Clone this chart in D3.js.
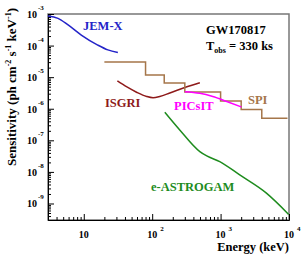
<!DOCTYPE html>
<html lang="en">
<head>
  <meta charset="UTF-8">
  <title>Sensitivity GW170817</title>
  <script src="https://d3js.org/d3.v7.min.js"></script>
  <style>
    body { margin: 0; background: #fff; }
    text { font-family: "Liberation Serif", "Times New Roman", serif; font-weight: bold; }
  </style>
</head>
<body>
  <svg width="303" height="257"></svg>
  <script>
    // Curve data: energy (keV) and sensitivity (ph cm-2 s-1 keV-1)
    const jemxE = [3, 4.2, 5.9, 9.2, 16, 22.5, 31.5];
    const jemxS = [8.6e-4, 7.3e-4, 4.5e-4, 2.16e-4, 1.04e-4, 7.3e-5, 6.0e-5];

    const isgriE = [31, 42.7, 60, 83, 103, 129, 181, 300, 497];
    const isgriS = [7.6e-6, 4.9e-6, 3.28e-6, 2.45e-6, 2.24e-6, 2.45e-6, 3.16e-6, 4.72e-6, 6.7e-6];

    const picsitE = [300, 497, 769, 1230, 2018];
    const picsitS = [3.48e-6, 3.1e-6, 2.45e-6, 1.7e-6, 1.14e-6];

    // SPI is a staircase: bin edges and one level per bin
    const spiEdges = [20, 80, 150, 300, 1000, 2000, 4000, 9500];
    const spiLevels = [3.0e-5, 1.17e-5, 6.5e-6, 3.4e-6, 1.77e-6, 9.5e-7, 5.0e-7];

    const astroE = [153, 253, 497, 628, 973, 1905, 4677, 9890];
    const astroS = [7.75e-7, 2.13e-7, 4.4e-8, 3.2e-8, 2.12e-8, 8.0e-9, 2.12e-9, 4.5e-10];

    const xMajor = [10, 100, 1000, 10000];
    const xExp = ["", "2", "3", "4"];
    const yMajor = [1e-3, 1e-4, 1e-5, 1e-6, 1e-7, 1e-8, 1e-9];
    const yExp = ["-3", "-4", "-5", "-6", "-7", "-8", "-9"];

    const svg = d3.select("svg");
    const mLeft = 48, mRight = 289, mTop = 14, mBottom = 220;

    const x = d3.scaleLog().domain([3, 10000]).range([mLeft, mRight]);
    const y = d3.scaleLog().domain([3e-10, 1e-3]).range([mBottom, mTop]);

    // minor tick values
    const xMinor = [];
    [1, 10, 100, 1000].forEach(d => {
      for (let m = 2; m <= 9; m++) {
        const v = m * d;
        if (v > 3 && v < 10000 && !xMajor.includes(v)) xMinor.push(v);
      }
    });
    const yMinor = [];
    [1e-10, 1e-9, 1e-8, 1e-7, 1e-6, 1e-5, 1e-4].forEach(d => {
      for (let m = 2; m <= 9; m++) {
        const v = m * d;
        if (v > 3e-10 && v < 1e-3) yMinor.push(v);
      }
    });

    // frame
    svg.append("rect")
      .attr("x", mLeft).attr("y", mTop)
      .attr("width", mRight - mLeft).attr("height", mBottom - mTop)
      .attr("fill", "none").attr("stroke", "#777").attr("stroke-width", 1.5);

    // axes with inward ticks
    function addAxis(axis, tr) {
      const g = svg.append("g").attr("transform", tr).call(axis);
      g.selectAll("text").remove();
      g.selectAll("line").attr("stroke", "#000");
      g.select(".domain").attr("stroke", "#000");
      return g;
    }
    addAxis(d3.axisBottom(x).tickValues(xMajor).tickSize(-6).tickSizeOuter(0).tickFormat(""), `translate(0,${mBottom})`);
    addAxis(d3.axisBottom(x).tickValues(xMinor).tickSize(-3).tickSizeOuter(0).tickFormat(""), `translate(0,${mBottom})`);
    addAxis(d3.axisLeft(y).tickValues(yMajor).tickSize(-6).tickSizeOuter(0).tickFormat(""), `translate(${mLeft},0)`);
    addAxis(d3.axisLeft(y).tickValues(yMinor).tickSize(-3).tickSizeOuter(0).tickFormat(""), `translate(${mLeft},0)`);

    // tick labels
    const xl = svg.append("g").attr("font-size", 10);
    xMajor.forEach((v, i) => {
      xl.append("text").attr("x", x(v)).attr("y", 238).attr("text-anchor", "middle").text("10");
      if (xExp[i]) {
        xl.append("text").attr("x", x(v) + 8).attr("y", 231).attr("font-size", 7).text(xExp[i]);
      }
    });
    const yl = svg.append("g").attr("font-size", 10);
    yMajor.forEach((v, i) => {
      yl.append("text").attr("x", 37).attr("y", y(v) + 4).attr("text-anchor", "end").text("10");
      yl.append("text").attr("x", 38).attr("y", y(v) - 4).attr("font-size", 7).text(yExp[i]);
    });

    // axis titles
    svg.append("text")
      .attr("x", mRight).attr("y", 251).attr("text-anchor", "end")
      .attr("font-size", 12.5).text("Energy (keV)");

    const yt = svg.append("text")
      .attr("transform", "translate(16,8) rotate(-90)")
      .attr("text-anchor", "end").attr("font-size", 13);
    yt.append("tspan").text("Sensitivity (ph cm");
    yt.append("tspan").attr("dy", -5).attr("font-size", 8).text("-2");
    yt.append("tspan").attr("dy", 5).text(" s");
    yt.append("tspan").attr("dy", -5).attr("font-size", 8).text("-1");
    yt.append("tspan").attr("dy", 5).text(" keV");
    yt.append("tspan").attr("dy", -5).attr("font-size", 8).text("-1");
    yt.append("tspan").attr("dy", 5).text(")");

    // curves
    const line = d3.line().x(d => x(d[0])).y(d => y(d[1])).curve(d3.curveMonotoneX);
    const plot = svg.append("g").attr("fill", "none").attr("stroke-width", 1.5);

    plot.append("path").attr("d", line(d3.zip(jemxE, jemxS))).attr("stroke", "#2424c8");
    plot.append("path").attr("d", line(d3.zip(isgriE, isgriS))).attr("stroke", "#8e1a1a");

    const spiPts = spiLevels.map((s, i) => [spiEdges[i], s]);
    spiPts.push([spiEdges[spiEdges.length - 1], spiLevels[spiLevels.length - 1]]);
    plot.append("path")
      .attr("d", d3.line().x(d => x(d[0])).y(d => y(d[1])).curve(d3.curveStepAfter)(spiPts))
      .attr("stroke", "#a5764a");

    plot.append("path").attr("d", line(d3.zip(picsitE, picsitS))).attr("stroke", "#ff00ff");
    plot.append("path").attr("d", line(d3.zip(astroE, astroS))).attr("stroke", "#1e8c1e");

    // labels
    const lab = svg.append("g").attr("font-size", 12.5);
    lab.append("text").attr("x", 83).attr("y", 29.5).attr("fill", "#2424c8").text("JEM-X");
    lab.append("text").attr("x", 105).attr("y", 107).attr("fill", "#8e1a1a").text("ISGRI");
    lab.append("text").attr("x", 174).attr("y", 109.5).attr("fill", "#ff00ff").text("PICsIT");
    lab.append("text").attr("x", 248).attr("y", 103.5).attr("fill", "#a5764a").text("SPI");
    lab.append("text").attr("x", 151).attr("y", 190.5).attr("fill", "#1e8c1e").text("e-ASTROGAM");
    lab.append("text").attr("x", 206).attr("y", 33.5).attr("fill", "#000").text("GW170817");
    const tobs = lab.append("text").attr("x", 206).attr("y", 49.5).attr("fill", "#000");
    tobs.append("tspan").text("T");
    tobs.append("tspan").attr("dy", 3).attr("font-size", 8).text("obs");
    tobs.append("tspan").attr("dy", -3).text(" = 330 ks");
  </script>
</body>
</html>
